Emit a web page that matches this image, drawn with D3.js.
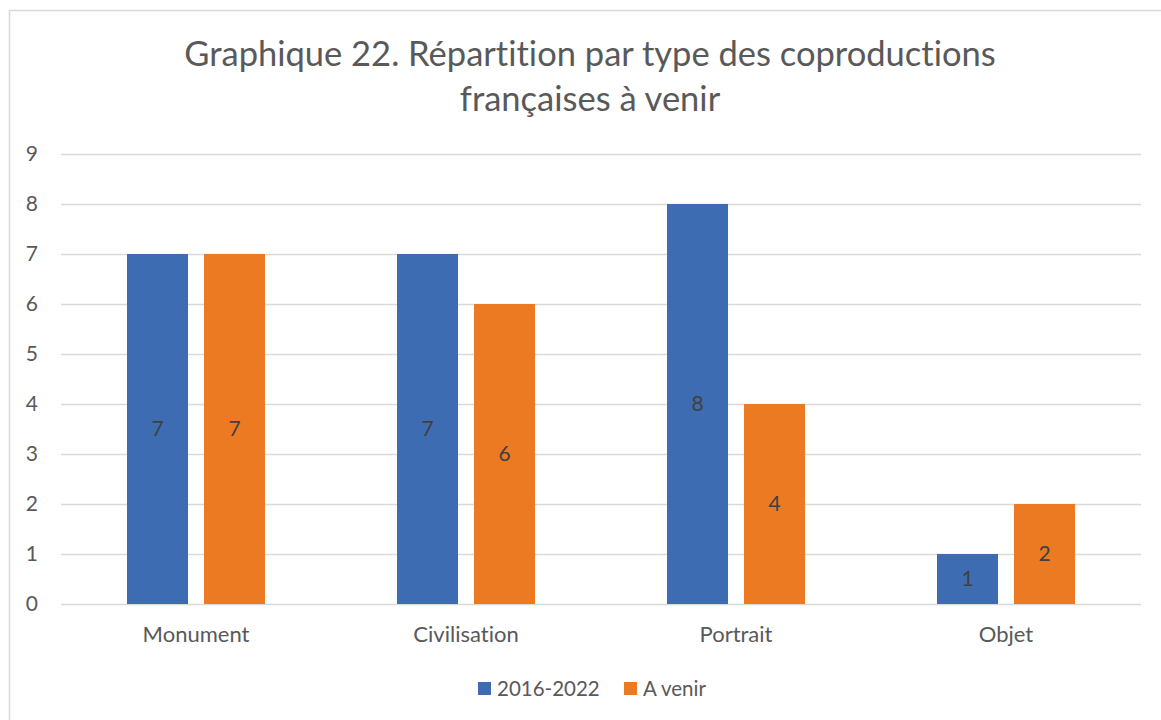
<!DOCTYPE html>
<html>
<head>
<meta charset="utf-8">
<script src="https://cdn.jsdelivr.net/npm/d3@7"></script>
<style>
  body { margin: 0; background: #fff; }
  text { font-family: Lato, "Open Sans", sans-serif; font-variant-ligatures: none; }
</style>
</head>
<body>
<div id="chart"></div>
<script>
// data
const categories = ["Monument", "Civilisation", "Portrait", "Objet"];
const seriesNames = ["2016-2022", "A venir"];
const values2016 = [7, 7, 8, 1];
const valuesAvenir = [7, 6, 4, 2];
const yTicks = [0, 1, 2, 3, 4, 5, 6, 7, 8, 9];
const titleLines = ["Graphique 22. Répartition par type des coproductions", "françaises à venir"];

const colors = ["#3d6cb3", "#ec7a23"];

const svgWidth = 1161;
const svgHeight = 720;

const margin = { top: 154, right: 20, bottom: 116, left: 61 };
const width = 1141 - margin.left;
const height = 604 - margin.top;

const svg = d3.select("#chart")
  .append("svg")
  .attr("width", svgWidth)
  .attr("height", svgHeight);

svg.append("rect")
  .attr("width", svgWidth)
  .attr("height", svgHeight)
  .attr("fill", "#fff");

// chart frame
svg.append("rect")
  .attr("x", 9.5)
  .attr("y", 10.5)
  .attr("width", 1200)
  .attr("height", 800)
  .attr("fill", "none")
  .attr("stroke", "#d9d9d9")
  .attr("stroke-width", 1.5);

// title
svg.append("text")
  .attr("x", 590)
  .attr("text-anchor", "middle")
  .attr("fill", "#595959")
  .attr("font-size", "34.5px")
  .selectAll("tspan")
  .data(titleLines)
  .enter()
  .append("tspan")
  .attr("x", 590)
  .attr("y", (d, i) => 66 + i * 45)
  .text(d => d);

const chartGroup = svg.append("g")
  .attr("transform", `translate(${margin.left}, ${margin.top})`);

const x0 = d3.scaleBand()
  .domain(categories)
  .range([0, width]);

const x1 = d3.scaleBand()
  .domain(seriesNames)
  .range([66, 204])
  .paddingInner(0.2078);

const y = d3.scaleLinear()
  .domain([0, 9])
  .range([height, 0]);

// gridlines + y labels
const leftAxis = d3.axisLeft(y)
  .tickValues(yTicks)
  .tickSize(-width)
  .tickPadding(23);

const yAxis = chartGroup.append("g")
  .call(leftAxis);
yAxis.select(".domain").remove();
yAxis.selectAll("line")
  .attr("stroke", "#d9d9d9")
  .attr("stroke-width", 1.5);
yAxis.selectAll("text")
  .attr("fill", "#595959")
  .attr("font-size", "21px")
  .attr("font-family", "Lato, sans-serif");

// category labels
const bottomAxis = d3.axisBottom(x0)
  .tickSize(0)
  .tickPadding(22);

const xAxis = chartGroup.append("g")
  .attr("transform", `translate(0, ${height})`)
  .call(bottomAxis);
xAxis.select(".domain").remove();
xAxis.selectAll("text")
  .attr("fill", "#595959")
  .attr("font-size", "22px")
  .attr("font-family", "Lato, sans-serif");

const rows = categories.map((c, i) => ({
  category: c,
  values: [
    { series: seriesNames[0], value: values2016[i], color: colors[0] },
    { series: seriesNames[1], value: valuesAvenir[i], color: colors[1] }
  ]
}));

const groups = chartGroup.selectAll(".cat")
  .data(rows)
  .enter()
  .append("g")
  .attr("class", "cat")
  .attr("transform", d => `translate(${x0(d.category)}, 0)`);

groups.selectAll("rect")
  .data(d => d.values)
  .enter()
  .append("rect")
  .attr("x", d => x1(d.series))
  .attr("y", d => y(d.value))
  .attr("width", x1.bandwidth())
  .attr("height", d => height - y(d.value))
  .attr("fill", d => d.color);

// data labels centred in bars
groups.selectAll(".lbl")
  .data(d => d.values)
  .enter()
  .append("text")
  .attr("class", "lbl")
  .attr("x", d => x1(d.series) + x1.bandwidth() / 2)
  .attr("y", d => (y(d.value) + height) / 2)
  .attr("dy", "0.35em")
  .attr("text-anchor", "middle")
  .attr("fill", "#404040")
  .attr("font-size", "21px")
  .text(d => d.value);

// legend
const legendItems = [
  { name: seriesNames[0], color: colors[0], x: 478 },
  { name: seriesNames[1], color: colors[1], x: 624 }
];

const legend = svg.append("g");
const item = legend.selectAll("g")
  .data(legendItems)
  .enter()
  .append("g")
  .attr("transform", d => `translate(${d.x}, 682)`);

item.append("rect")
  .attr("width", 13)
  .attr("height", 13)
  .attr("fill", d => d.color);

item.append("text")
  .attr("x", 19)
  .attr("y", 14)
  .attr("fill", "#595959")
  .attr("font-size", "20.5px")
  .text(d => d.name);
</script>
</body>
</html>
